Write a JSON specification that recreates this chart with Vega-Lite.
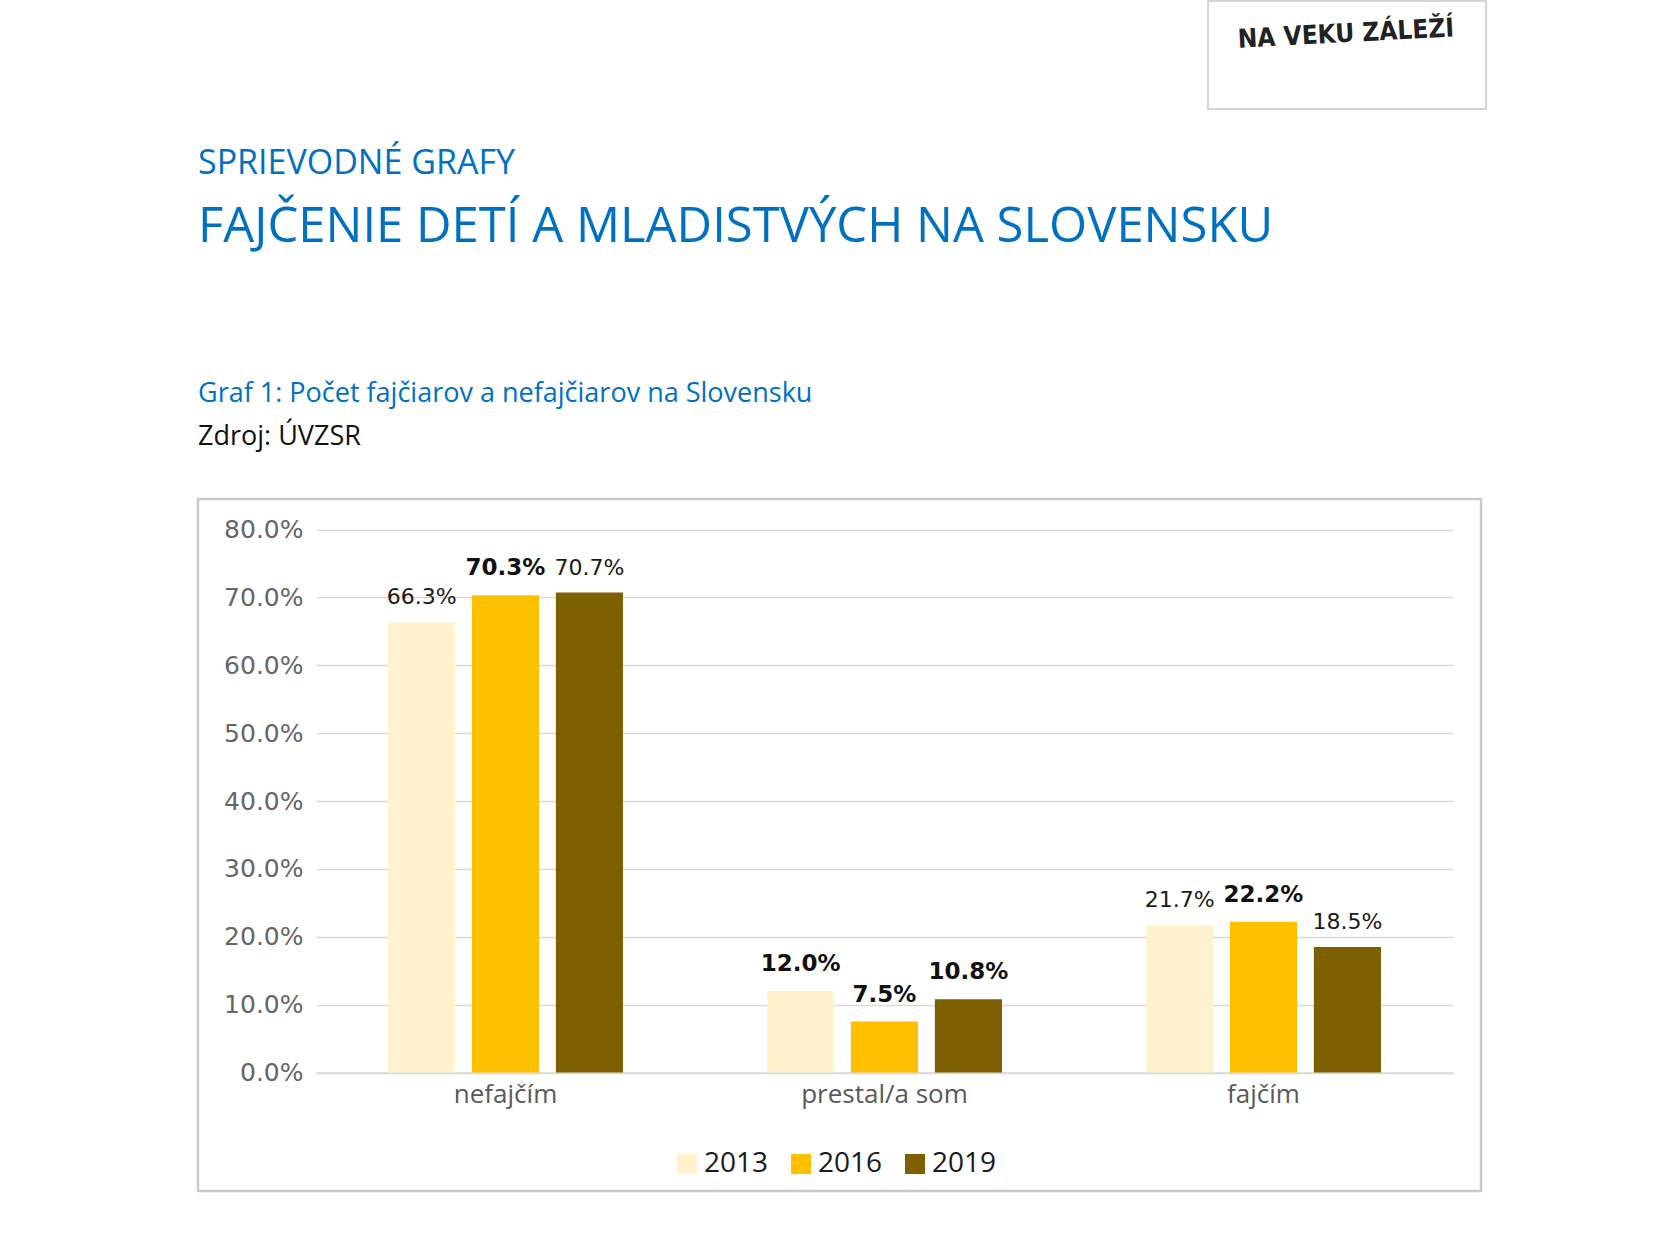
{
  "$schema": "https://vega.github.io/schema/vega-lite/v6.json",
  "background": "white",
  "padding": {"left": 196, "top": 0, "right": 20, "bottom": 20},
  "spacing": 0,
  "config": {"font": "Open Sans"},
  "vconcat": [
    {
      "spacing": 0,
      "hconcat": [
        {"width": 1009, "height": 146, "view": {"stroke": null}, "data": {"values": []}, "mark": "text", "encoding": {}},
        {
          "width": 278, "height": 108,
          "view": {"stroke": "#c8c8c8", "strokeWidth": 1.5},
          "data": {"values": [{"logo": "NA VEKU ZÁLEŽÍ"}]},
          "mark": {"type": "text", "font": "DejaVu Sans Condensed", "fontWeight": "bold", "fontSize": 26, "angle": -3, "dy": -21, "color": "#222222"},
          "encoding": {"text": {"field": "logo"}}
        }
      ]
    },
    {
      "width": 1283, "height": 126,
      "view": {"stroke": null},
      "data": {"values": []},
      "mark": "text",
      "encoding": {},
      "title": {
        "text": "SPRIEVODNÉ GRAFY",
        "subtitle": "FAJČENIE DETÍ A MLADISTVÝCH NA SLOVENSKU",
        "anchor": "start", "frame": "group",
        "font": "Open Sans", "fontSize": 34, "fontWeight": "normal", "color": "#0070C0",
        "subtitleFont": "Open Sans", "subtitleFontSize": 49, "subtitleColor": "#0070C0",
        "subtitlePadding": 22, "offset": 0
      }
    },
    {
      "width": 1283, "height": 692,
      "view": {"stroke": "#c9c9c9", "strokeWidth": 2.5},
      "title": {
        "text": "Graf 1:  Počet fajčiarov a nefajčiarov na Slovensku",
        "subtitle": "Zdroj: ÚVZSR",
        "anchor": "start", "frame": "group",
        "font": "Open Sans", "fontSize": 27, "fontWeight": "normal", "color": "#0070C0",
        "subtitleFont": "Open Sans", "subtitleFontSize": 27, "subtitleColor": "#111111",
        "subtitlePadding": 16, "offset": 48
      },
      "data": {"values": [
        {"status": "nefajčím", "year": "2013", "share": 0.663},
        {"status": "nefajčím", "year": "2016", "share": 0.703},
        {"status": "nefajčím", "year": "2019", "share": 0.707},
        {"status": "prestal/a som", "year": "2013", "share": 0.120},
        {"status": "prestal/a som", "year": "2016", "share": 0.075},
        {"status": "prestal/a som", "year": "2019", "share": 0.108},
        {"status": "fajčím", "year": "2013", "share": 0.217},
        {"status": "fajčím", "year": "2016", "share": 0.222},
        {"status": "fajčím", "year": "2019", "share": 0.185}
      ]},
      "encoding": {
        "x": {
          "field": "status", "type": "nominal",
          "sort": ["nefajčím", "prestal/a som", "fajčím"],
          "scale": {"range": [118, 1255], "paddingInner": 0.38, "paddingOuter": 0.19},
          "axis": {
            "title": null, "offset": -118.5, "ticks": false, "grid": false,
            "domainColor": "#d9d9d9", "domainWidth": 1.5,
            "labelAngle": 0, "labelPadding": 9, "labelFont": "Open Sans", "labelFontSize": 26, "labelColor": "#595959"
          }
        },
        "xOffset": {"field": "year", "type": "nominal", "scale": {"paddingInner": 0.2, "paddingOuter": 0}},
        "y": {
          "field": "share", "type": "quantitative",
          "scale": {"domain": [0, 0.8], "range": [573.5, 30.5]},
          "axis": {
            "title": null, "offset": -118, "ticks": false, "domain": false,
            "values": [0, 0.1, 0.2, 0.3, 0.4, 0.5, 0.6, 0.7, 0.8],
            "format": ".1%", "labelFlush": false, "labelPadding": 13,
            "labelFont": "DejaVu Sans", "labelFontSize": 25, "labelColor": "#666666",
            "gridColor": "#d9d9d9", "gridWidth": 1.5
          }
        }
      },
      "layer": [
        {
          "mark": {"type": "bar"},
          "encoding": {
            "color": {
              "field": "year", "type": "nominal",
              "scale": {"domain": ["2013", "2016", "2019"], "range": ["#FFF2CC", "#FFC000", "#7F6000"]},
              "legend": {
                "orient": "none", "legendX": 475, "legendY": 1149, "direction": "horizontal",
                "title": null, "symbolType": "square", "symbolSize": 400, "symbolStrokeWidth": 0,
                "labelFont": "Open Sans", "labelFontSize": 28, "labelColor": "#1a1a1a",
                "labelOffset": 3, "columnPadding": 18
              }
            }
          }
        },
        {
          "transform": [{"filter": "!(datum.year === '2016' || datum.status === 'prestal/a som')"}],
          "mark": {"type": "text", "dy": -25, "baseline": "middle", "font": "DejaVu Sans", "fontSize": 22, "color": "#1a1a1a"},
          "encoding": {
            "text": {"field": "share", "type": "quantitative", "format": ".1%"}
          }
        },
        {
          "transform": [{"filter": "datum.year === '2016' || datum.status === 'prestal/a som'"}],
          "mark": {"type": "text", "dy": -27, "baseline": "middle", "font": "DejaVu Sans", "fontSize": 23, "fontWeight": "bold", "color": "#111111"},
          "encoding": {
            "text": {"field": "share", "type": "quantitative", "format": ".1%"}
          }
        }
      ]
    }
  ]
}
